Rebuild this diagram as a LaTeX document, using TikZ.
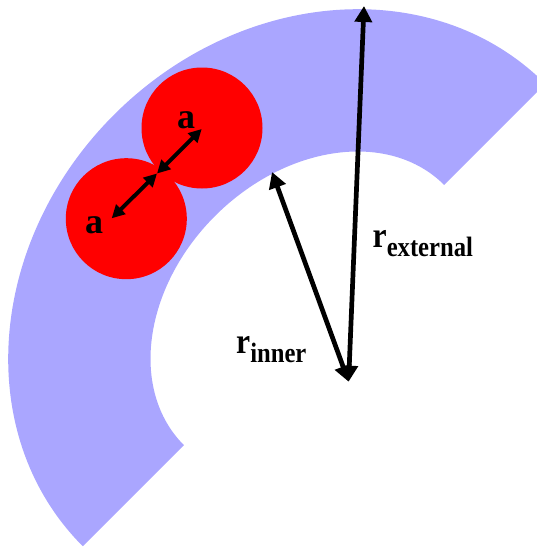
\documentclass[tikz,border=0pt]{standalone}
\usepackage{fontspec}
\setmainfont{Liberation Serif}
\usetikzlibrary{arrows.meta}
\definecolor{ringblue}{RGB}{170,166,255}
\definecolor{ballred}{RGB}{255,0,0}
\tikzset{
  ring/.style={fill=ringblue},
  ball/.style={circle, fill=ballred, minimum size=121pt, inner sep=0pt},
  bigarrow/.style={line width=4.7pt, {Triangle[length=16pt,width=17pt]}-{Triangle[length=16pt,width=17pt]}},
  smallarrow/.style={line width=3.9pt, {Triangle[length=13pt,width=13pt]}-{Triangle[length=13pt,width=13pt]}},
  lbl/.style={anchor=base west, inner sep=0pt, font=\bfseries}
}
\begin{document}
\begin{tikzpicture}[x=1pt,y=-1pt]
\useasboundingbox (0,0) rectangle (537,549);
\clip (0,0) rectangle (537,549);
% elliptical half ring, rotated
\begin{scope}[shift={(314,315)}, rotate=225]
  \fill[ring] (327,0) arc[start angle=0, end angle=180, x radius=327, y radius=283]
    -- (-184,0) arc[start angle=180, end angle=0, x radius=184, y radius=140] -- cycle;
\end{scope}
% balls
\node[ball] (b1) at (202,128) {};
\node[ball] (b2) at (126.3,218.7) {};
% coordinates for arrows
\coordinate (c1) at (201.7,129);
\coordinate (touch) at (157,173.5);
\coordinate (c2) at (111.7,218.3);
\coordinate (O) at (348.6,381.7);
\coordinate (Pext) at (364,6);
\coordinate (Pin) at (272,172);
\draw[smallarrow] (touch) -- (c1);
\draw[smallarrow] (c2) -- (touch);
\draw[bigarrow] (O) -- (Pext);
\draw[bigarrow] (O) -- (Pin);
% labels
\node[lbl] (la1) at (177,128.3) {\fontsize{36}{36}\selectfont a};
\node[lbl] (la2) at (85,233.3) {\fontsize{36}{36}\selectfont a};
\node[lbl] (lext) at (372.5,247.3) {\scalebox{0.88}[1]{\fontsize{36}{36}\selectfont r\raisebox{-9.4pt}{\fontsize{28}{28}\selectfont external}}};
\node[lbl] (lin) at (236,353.3) {\scalebox{0.88}[1]{\fontsize{36}{36}\selectfont r\raisebox{-9.4pt}{\fontsize{28}{28}\selectfont inner}}};
\end{tikzpicture}
\end{document}
